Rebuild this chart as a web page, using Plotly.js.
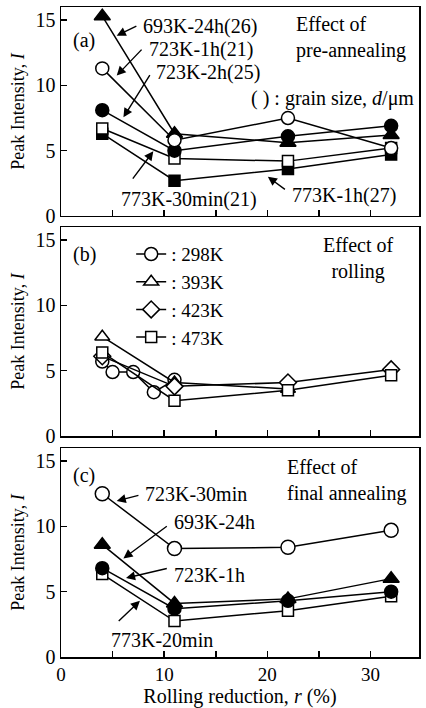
<!DOCTYPE html>
<html>
<head>
<meta charset="utf-8">
<script src="https://cdn.plot.ly/plotly-3.0.1.min.js"></script>
<style>html,body{margin:0;padding:0;background:#fff;}#chart{width:426px;height:708px;}</style>
</head>
<body>
<div id="chart"></div>
<script>
// ---- Data ----
// rolling reduction r (%)
var rolling = [4, 11, 22, 32];

// (a) Effect of pre-annealing
var preAnnealNames = ["693K-24h(26)", "723K-1h(21)", "723K-2h(25)", "773K-30min(21)", "773K-1h(27)"];
var pre693_24h   = [15.3, 6.3, 5.6, 6.2];
var pre723_1h    = [11.3, 5.8, 7.5, 5.2];
var pre723_2h    = [8.1, 5.0, 6.1, 6.9];
var pre773_30min = [6.7, 4.4, 4.2, 5.2];
var pre773_1h    = [6.3, 2.7, 3.6, 4.7];

// (b) Effect of rolling temperature
var rollNames = ["298K", "393K", "423K", "473K"];
var roll298x = [4, 5, 7, 9, 11];
var roll298  = [5.7, 4.9, 4.9, 3.35, 4.3];
var roll393x = [4, 11, 22];
var roll393  = [7.6, 4.1, 3.6];
var roll423  = [6.1, 3.8, 4.1, 5.1];
var roll473  = [6.4, 2.7, 3.5, 4.65];

// (c) Effect of final annealing
var finalNames = ["723K-30min", "693K-24h", "723K-1h", "773K-20min"];
var fin723_30min = [12.5, 8.3, 8.4, 9.7];
var fin693_24h   = [8.6, 4.1, 4.45, 6.0];
var fin723_1h    = [6.8, 3.7, 4.3, 5.0];
var fin773_20min = [6.35, 2.75, 3.55, 4.65];

// ---- Styling helpers ----
var FONT = "Liberation Serif, Times New Roman, serif";
function series(x, y, name, xa, ya, symbol, filled, size, showlegend) {
  return {
    x: x, y: y, name: name, xaxis: xa, yaxis: ya,
    type: "scatter", mode: "lines+markers",
    showlegend: !!showlegend,
    line: {color: "black", width: 1.5},
    marker: {symbol: symbol, size: size, color: filled ? "black" : "white",
             line: {color: "black", width: 1.5}},
    hoverinfo: "skip"
  };
}

var traces = [
  // panel (a) : x3 / y3
  series(rolling, pre693_24h, preAnnealNames[0], "x3", "y3", "triangle-up", true, 14),
  series(rolling, pre773_1h, preAnnealNames[4], "x3", "y3", "square", true, 11),
  series(rolling, pre773_30min, preAnnealNames[3], "x3", "y3", "square", false, 11),
  series(rolling, pre723_2h, preAnnealNames[2], "x3", "y3", "circle", true, 13),
  series(rolling, pre723_1h, preAnnealNames[1], "x3", "y3", "circle", false, 13),
  // panel (b) : x2 / y2
  series(roll298x, roll298, ": " + rollNames[0], "x2", "y2", "circle", false, 13, true),
  series(roll393x, roll393, ": " + rollNames[1], "x2", "y2", "triangle-up", false, 13, true),
  series(rolling, roll423, ": " + rollNames[2], "x2", "y2", "diamond", false, 13, true),
  series(rolling, roll473, ": " + rollNames[3], "x2", "y2", "square", false, 11, true),
  // panel (c) : x / y
  series(rolling, fin723_30min, finalNames[0], "x", "y", "circle", false, 14),
  series(rolling, fin773_20min, finalNames[3], "x", "y", "square", false, 11),
  series(rolling, fin723_1h, finalNames[2], "x", "y", "circle", true, 13),
  series(rolling, fin693_24h, finalNames[1], "x", "y", "triangle-up", true, 14)
];

function xAxis(anchor, showLabels, withTitle) {
  var ax = {
    anchor: anchor, range: [0, 34.7], domain: [0, 1],
    tickvals: [0, 5, 10, 15, 20, 25, 30],
    ticktext: ["0", "", "10", "", "20", "", "30"],
    showticklabels: showLabels,
    ticks: "inside", ticklen: 6, tickwidth: 1.5, tickcolor: "black",
    showline: true, linewidth: 1.5, linecolor: "black", mirror: true,
    showgrid: false, zeroline: false,
    tickfont: {family: FONT, size: 19, color: "black"}
  };
  if (withTitle) {
    ax.title = {text: "Rolling reduction, <i>r</i> (%)", standoff: 14,
                font: {family: FONT, size: 20, color: "black"}};
  }
  return ax;
}
function yAxis(anchor, domain) {
  return {
    anchor: anchor, domain: domain, range: [0, 16],
    tickvals: [0, 5, 10, 15],
    ticks: "inside", ticklen: 6, tickwidth: 1.5, tickcolor: "black",
    showline: true, linewidth: 1.5, linecolor: "black", mirror: true,
    showgrid: false, zeroline: false,
    tickfont: {family: FONT, size: 20, color: "black"},
    title: {text: "Peak Intensity, <i>I</i>", standoff: 6,
            font: {family: FONT, size: 18, color: "black"}}
  };
}

function label(text, x, y, xr, yr, xanchor, align) {
  return {text: text, x: x, y: y, xref: xr, yref: yr, showarrow: false,
          xanchor: xanchor || "left", yanchor: "middle", align: align || "left",
          font: {family: FONT, size: 20, color: "black"}};
}
function arrow(xTail, yTail, xHead, yHead, xr, yr) {
  return {text: "", x: xHead, y: yHead, ax: xTail, ay: yTail,
          xref: xr, yref: yr, axref: xr, ayref: yr,
          showarrow: true, arrowhead: 2, arrowsize: 1.3, arrowwidth: 1.4,
          arrowcolor: "black"};
}

var annotations = [
  // panel (a)
  label("(a)", 1.0, 13.4, "x3", "y3"),
  label("Effect of<br>pre-annealing", 22.6, 13.7, "x3", "y3"),
  label("693K-24h(26)", 7.8, 14.5, "x3", "y3"),
  label("723K-1h(21)", 8.3, 12.75, "x3", "y3"),
  label("723K-2h(25)", 9.0, 10.95, "x3", "y3"),
  label("( ) : grain size, <i>d</i>/μm", 34.4, 9.0, "x3", "y3", "right"),
  label("773K-30min(21)", 5.6, 1.25, "x3", "y3"),
  label("773K-1h(27)", 22.2, 1.6, "x3", "y3"),
  arrow(7.45, 14.6, 5.4, 13.8, "x3", "y3"),
  arrow(7.95, 12.85, 5.4, 10.75, "x3", "y3"),
  arrow(8.7, 10.9, 6.05, 7.55, "x3", "y3"),
  arrow(6.85, 2.75, 8.95, 4.95, "x3", "y3"),
  arrow(21.85, 1.95, 20.05, 3.0, "x3", "y3"),
  // panel (b)
  label("(b)", 1.0, 13.9, "x2", "y2"),
  label("Effect of<br>rolling", 28.8, 13.6, "x2", "y2", "center", "center"),
  // panel (c)
  label("(c)", 1.0, 13.9, "x", "y"),
  label("Effect of<br>final annealing", 21.7, 13.5, "x", "y"),
  label("723K-30min", 7.9, 12.5, "x", "y"),
  label("693K-24h", 10.8, 10.35, "x", "y"),
  label("723K-1h", 10.8, 6.3, "x", "y"),
  label("773K-20min", 4.7, 1.3, "x", "y"),
  arrow(7.65, 12.4, 5.4, 11.95, "x", "y"),
  arrow(10.4, 10.1, 6.05, 7.55, "x", "y"),
  arrow(10.4, 6.8, 6.3, 6.05, "x", "y"),
  arrow(5.45, 2.65, 7.65, 4.3, "x", "y")
];

var layout = {
  width: 426, height: 708,
  margin: {l: 61, r: 7, t: 7, b: 51, pad: 0},
  paper_bgcolor: "white", plot_bgcolor: "white",
  font: {family: FONT, color: "black"},
  xaxis: xAxis("y", true, true),
  xaxis2: xAxis("y2", false, false),
  xaxis3: xAxis("y3", false, false),
  yaxis: yAxis("x", [0, 0.3215]),
  yaxis2: yAxis("x2", [0.34, 0.6615]),
  yaxis3: yAxis("x3", [0.6785, 1]),
  showlegend: true,
  legend: {x: 0.196, y: 0.649, xanchor: "left", yanchor: "top",
           bgcolor: "rgba(0,0,0,0)", borderwidth: 0,
           font: {family: FONT, size: 19, color: "black"},
           tracegroupgap: 0, itemwidth: 30},
  annotations: annotations
};

Plotly.newPlot("chart", traces, layout, {displayModeBar: false, staticPlot: true});
</script>
</body>
</html>
